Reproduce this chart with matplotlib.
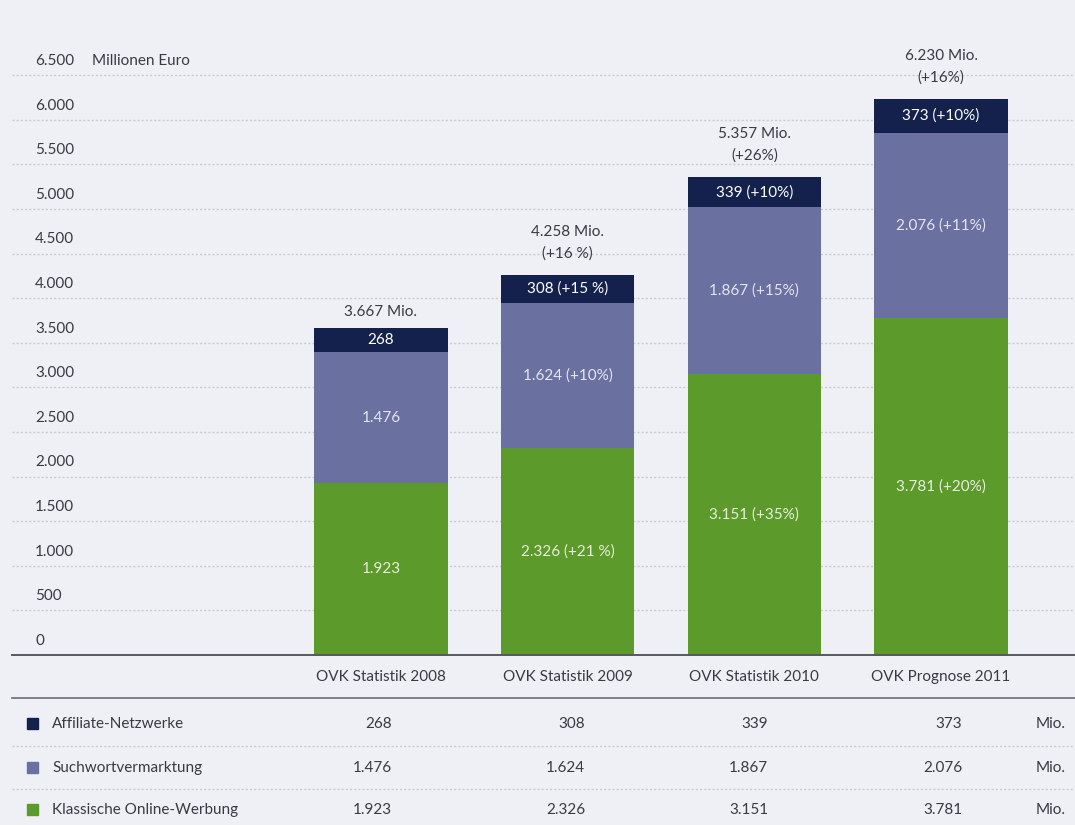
import matplotlib.pyplot as plt
import matplotlib.transforms as mtransforms
from matplotlib.patches import Rectangle
from matplotlib.lines import Line2D
import numpy as np

plt.rcParams['font.family'] = ['Lato', 'DejaVu Sans']

# ---------------- data ----------------
categories = ['OVK Statistik 2008', 'OVK Statistik 2009', 'OVK Statistik 2010', 'OVK Prognose 2011']
series_names = ['Affiliate-Netzwerke', 'Suchwortvermarktung', 'Klassische Online-Werbung']
klassisch = [1923, 2326, 3151, 3781]
suchwort = [1476, 1624, 1867, 2076]
affiliate = [268, 308, 339, 373]
totals = [3667, 4258, 5357, 6230]

klassisch_lbl = ['1.923', '2.326 (+21 %)', '3.151 (+35%)', '3.781 (+20%)']
suchwort_lbl = ['1.476', '1.624 (+10%)', '1.867 (+15%)', '2.076 (+11%)']
affiliate_lbl = ['268', '308 (+15 %)', '339 (+10%)', '373 (+10%)']
total_lbl = ['3.667 Mio.', '4.258 Mio.\n(+16 %)', '5.357 Mio.\n(+26%)', '6.230 Mio.\n(+16%)']

table_rows = [
    ['268', '308', '339', '373'],
    ['1.476', '1.624', '1.867', '2.076'],
    ['1.923', '2.326', '3.151', '3.781'],
]
yticks = [0, 500, 1000, 1500, 2000, 2500, 3000, 3500, 4000, 4500, 5000, 5500, 6000, 6500]
ytick_lbl = ['0', '500', '1.000', '1.500', '2.000', '2.500', '3.000', '3.500',
             '4.000', '4.500', '5.000', '5.500', '6.000', '6.500']

c_navy = '#14214d'
c_slate = '#6a70a0'
c_green = '#5c9a2b'
bg = '#eef0f5'
txt = '#3a3a42'

W, H = 1075, 825
fig = plt.figure(figsize=(W / 100, H / 100), dpi=100, facecolor=bg)

def fx(px):
    return px / W

def fy(py):
    return 1 - py / H

# main axes: baseline at y=655 px, 0.0892 px per unit
ax_left, ax_right = 12, 1075
base_y = 655
ppu = 0.0892
ymax = 7000
ax = fig.add_axes([fx(ax_left), fy(base_y), fx(ax_right - ax_left), ymax * ppu / H])
ax.set_facecolor(bg)
ax.set_ylim(0, ymax)
spacing = 186.7
c0 = 381
ax.set_xlim((ax_left - c0) / spacing, (ax_right - c0) / spacing)
for s in ax.spines.values():
    s.set_visible(False)
ax.set_xticks([])
ax.set_yticks([])

x = np.arange(len(categories))
width = 0.715

# grid lines
for v in yticks[1:]:
    ax.axhline(v, color='#c8cbd4', lw=1.0, ls=(0, (1.5, 1.5)), zorder=0)

b1 = ax.bar(x, klassisch, width, color=c_green, zorder=2)
b2 = ax.bar(x, suchwort, width, bottom=klassisch, color=c_slate, zorder=2)
bottom3 = np.array(klassisch) + np.array(suchwort)
b3 = ax.bar(x, affiliate, width, bottom=bottom3, color=c_navy, zorder=2)

# y labels sit above the grid lines
trans = mtransforms.blended_transform_factory(ax.transAxes, ax.transData)
lab_x = (35 - ax_left) / (ax_right - ax_left)
for v, l in zip(yticks, ytick_lbl):
    ax.text(lab_x, v + 80, l, transform=trans, ha='left', va='bottom',
            fontsize=11, color=txt)
ax.text((92 - ax_left) / (ax_right - ax_left), 6500 + 80, 'Millionen Euro',
        transform=trans, ha='left', va='bottom', fontsize=11, color=txt)

# segment labels
for i in range(len(categories)):
    ax.text(x[i], klassisch[i] / 2, klassisch_lbl[i], ha='center', va='center',
            color='#e8f0dc', fontsize=11, zorder=3)
    ax.text(x[i], klassisch[i] + suchwort[i] / 2, suchwort_lbl[i],
            ha='center', va='center', color='#e4e6f0', fontsize=11, zorder=3)
    ax.text(x[i], bottom3[i] + affiliate[i] / 2, affiliate_lbl[i],
            ha='center', va='center', color='white', fontsize=11, zorder=3)
    off = 160 if '\n' in total_lbl[i] else 95
    ax.text(x[i], totals[i] + off, total_lbl[i], ha='center', va='bottom',
            color=txt, fontsize=11, linespacing=1.7, zorder=3)

# ---------------- table below ----------------
def hline(py, style='-', lw=1.4, color='#55585f'):
    fig.add_artist(Line2D([fx(12), fx(1075)], [fy(py), fy(py)], color=color,
                          lw=lw, ls=style, transform=fig.transFigure))

hline(655)
hline(698, lw=1.2, color='#6a6d75')
hline(746, style=(0, (1.5, 1.5)), lw=1.0, color='#c8cbd4')
hline(789, style=(0, (1.5, 1.5)), lw=1.0, color='#c8cbd4')

centers_px = [c0 + spacing * i for i in range(len(categories))]
for cx, c in zip(centers_px, categories):
    fig.text(fx(cx), fy(677), c, ha='center', va='center', fontsize=11, color=txt)

row_y = [724, 768, 810]
row_colors = [c_navy, c_slate, c_green]
right_px = [392, 585, 768, 962]
for ry, name, col, vals in zip(row_y, series_names, row_colors, table_rows):
    fig.add_artist(Rectangle((fx(27), fy(ry + 5)), fx(11), 11 / H, color=col,
                             transform=fig.transFigure))
    fig.text(fx(52), fy(ry), name, ha='left', va='center', fontsize=11, color=txt)
    for rx, v in zip(right_px, vals):
        fig.text(fx(rx), fy(ry), v, ha='right', va='center', fontsize=11, color=txt)
    fig.text(fx(1036), fy(ry), 'Mio.', ha='left', va='center', fontsize=11, color=txt)

plt.savefig('out.png', dpi=100, facecolor=bg)
